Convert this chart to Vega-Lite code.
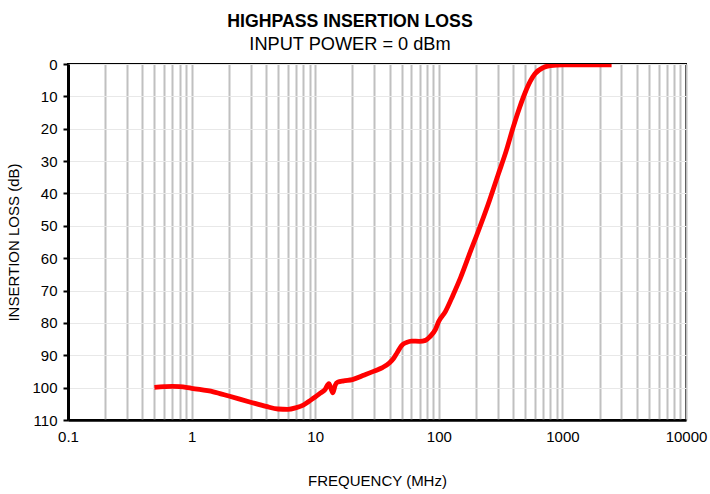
{
  "$schema": "https://vega.github.io/schema/vega-lite/v6.json",
  "width": 618,
  "height": 356,
  "autosize": {"type": "none"},
  "padding": {"left": 68, "top": 64, "right": 24, "bottom": 74},
  "title": {
    "text": "HIGHPASS INSERTION LOSS",
    "subtitle": "INPUT POWER = 0 dBm",
    "font": "Liberation Sans, Arial",
    "fontSize": 17.7,
    "fontWeight": "bold",
    "color": "black",
    "subtitleFont": "Liberation Sans, Arial",
    "subtitleFontSize": 18.2,
    "subtitleColor": "black",
    "subtitlePadding": 5,
    "anchor": "middle",
    "dx": -27,
    "offset": 4
  },
  "config": {
    "view": {"stroke": "black", "strokeWidth": 2},
    "axis": {
      "labelFont": "Liberation Sans, Arial",
      "titleFont": "Liberation Sans, Arial",
      "labelColor": "black",
      "titleColor": "black",
      "titleFontWeight": "normal"
    }
  },
  "data": {
    "values": [
      {"f": 0.5, "il": 99.9},
      {"f": 0.6, "il": 99.7},
      {"f": 0.7, "il": 99.6},
      {"f": 0.8, "il": 99.7},
      {"f": 0.9, "il": 99.9},
      {"f": 1, "il": 100.2},
      {"f": 1.5, "il": 101.3},
      {"f": 2, "il": 102.6},
      {"f": 3, "il": 104.5},
      {"f": 4, "il": 105.8},
      {"f": 5, "il": 106.6},
      {"f": 6, "il": 106.7},
      {"f": 7, "il": 106.2},
      {"f": 8, "il": 105.4},
      {"f": 9, "il": 104.1},
      {"f": 10, "il": 102.9},
      {"f": 11, "il": 101.7},
      {"f": 12, "il": 100.6},
      {"f": 12.9, "il": 98.8},
      {"f": 13.4, "il": 100.3},
      {"f": 13.9, "il": 101.6},
      {"f": 14.5, "il": 99.3},
      {"f": 15.2, "il": 98.3},
      {"f": 17, "il": 97.9},
      {"f": 20, "il": 97.5},
      {"f": 25, "il": 96.1},
      {"f": 30, "il": 94.9},
      {"f": 35, "il": 93.8},
      {"f": 40, "il": 92.3},
      {"f": 43, "il": 91},
      {"f": 46, "il": 89.2},
      {"f": 50, "il": 87},
      {"f": 55, "il": 86},
      {"f": 60, "il": 85.6},
      {"f": 70, "il": 85.7},
      {"f": 78, "il": 85.4},
      {"f": 85, "il": 84.2},
      {"f": 94, "il": 82},
      {"f": 100, "il": 79.5},
      {"f": 113, "il": 76.5},
      {"f": 130, "il": 71.5},
      {"f": 150, "il": 66},
      {"f": 180, "il": 58},
      {"f": 200, "il": 53.5},
      {"f": 250, "il": 43.5},
      {"f": 300, "il": 34.5},
      {"f": 350, "il": 27},
      {"f": 400, "il": 19.5},
      {"f": 450, "il": 13.5},
      {"f": 500, "il": 8.8},
      {"f": 550, "il": 5.3},
      {"f": 600, "il": 3},
      {"f": 700, "il": 1.1},
      {"f": 800, "il": 0.5},
      {"f": 1000, "il": 0.3},
      {"f": 2500, "il": 0.3}
    ]
  },
  "mark": {"type": "line", "color": "#ff0000", "strokeWidth": 4.8, "interpolate": "monotone", "clip": true},
  "encoding": {
    "x": {
      "field": "f",
      "type": "quantitative",
      "scale": {"type": "log", "domain": [0.1, 10000]},
      "axis": {
        "title": "FREQUENCY (MHz)",
        "values": [0.1,0.2,0.3,0.4,0.5,0.6,0.7,0.8,0.9,1,2,3,4,5,6,7,8,9,10,20,30,40,50,60,70,80,90,100,200,300,400,500,600,700,800,900,1000,2000,3000,4000,5000,6000,7000,8000,9000,10000],
        "format": "~g",
        "labelExpr": "abs(log(datum.value)/LN10 - round(log(datum.value)/LN10)) < 0.000001 ? datum.label : ''",
        "ticks": false,
        "grid": true,
        "gridColor": "#c0c0c0",
        "gridWidth": 2,
        "gridOpacity": 1,
        "domainColor": "black",
        "domainWidth": 2.5,
        "labelFontSize": 15,
        "labelPadding": 9,
        "labelFlush": false,
        "labelOverlap": false,
        "titleFontSize": 15,
        "titlePadding": 29
      }
    },
    "y": {
      "field": "il",
      "type": "quantitative",
      "scale": {"domain": [0, 110], "reverse": true},
      "axis": {
        "title": "INSERTION LOSS (dB)",
        "values": [0,10,20,30,40,50,60,70,80,90,100,110],
        "grid": true,
        "gridColor": "#e8e8e8",
        "gridWidth": 1.2,
        "domainColor": "black",
        "domainWidth": 3,
        "tickColor": "black",
        "tickWidth": 2,
        "tickSize": 5,
        "labelFontSize": 15,
        "labelPadding": 6,
        "labelFlush": false,
        "labelOverlap": false,
        "titleFontSize": 15,
        "titlePadding": 10
      }
    }
  }
}
